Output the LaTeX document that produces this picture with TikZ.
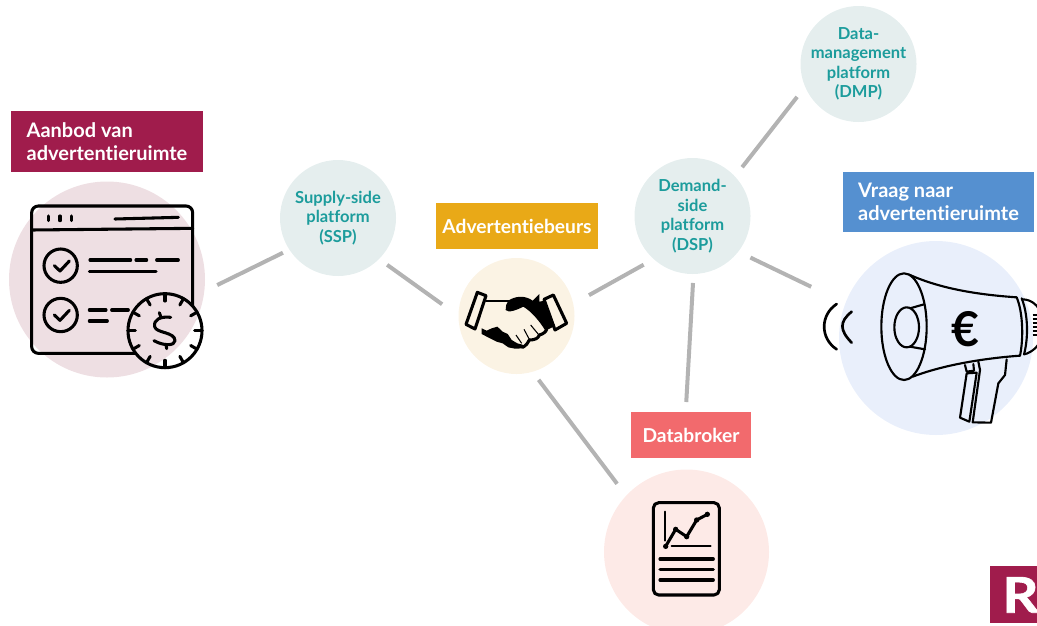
\documentclass[tikz,border=0pt]{standalone}
\usepackage{fontspec}
\setmainfont{Lato}[Ligatures={NoCommon,NoRare}]
\newfontfamily\logofont{Lato}[BoldFeatures={FakeStretch=1.15,FakeBold=1.2}]
\def\px{0.75pt}
\definecolor{wine}{HTML}{A01C4C}
\definecolor{skyb}{HTML}{5590D0}
\definecolor{amber}{HTML}{E9A917}
\definecolor{coral}{HTML}{F26A6D}
\definecolor{tealt}{HTML}{1C9C9C}
\definecolor{cpink}{HTML}{EEDFE3}
\definecolor{cmist}{HTML}{E5EEEE}
\definecolor{ccream}{HTML}{FBF3E4}
\definecolor{crose}{HTML}{FDEAE7}
\definecolor{cblue}{HTML}{E9EFFB}
\definecolor{connc}{HTML}{B3B3B3}
\tikzset{
  disc/.style={circle,inner sep=0pt,outer sep=0pt,minimum size=#1*\px},
  platform/.style={disc=116,fill=cmist,inner sep=-14pt,text=tealt,align=center,
    font=\fontsize{12.4}{14.6}\selectfont\bfseries},
  tag/.style={rectangle,inner sep=0pt,outer sep=0pt,text=white,align=left,
    font=\fontsize{14.4}{17.4}\selectfont\bfseries},
  tagwide/.style={tag,font=\fontsize{15}{17.4}\selectfont\bfseries},
  conn/.style={draw=connc,line width=3pt},
  ink/.style={draw=black,line width=2.3pt,line cap=round,line join=round},
  thinink/.style={draw=black,line width=1.6pt,line cap=round,line join=round},
}
\begin{document}
\begin{tikzpicture}[x=0.75pt,y=-0.75pt]
\useasboundingbox (0,0) rectangle (1037,625);
\clip (0,0) rectangle (1037,625);
% circles
\node[disc=196,fill=cpink] (aanbod) at (107,279.5) {};
\node[disc=194,fill=cblue] (vraag) at (936,338) {};
\node[disc=165,fill=crose] (data) at (686.5,552) {};
\node[disc=116,fill=ccream] (hand) at (516.5,316) {};
\node[platform] (ssp) at (338,218) {Supply-side\\platform\\(SSP)};
\node[platform] (dsp) at (692.5,216) {Demand-\\side\\platform\\(DSP)};
\node[platform] (dmp) at (858.5,64) {Data-\\management\\platform\\(DMP)};
% tags
\node[tagwide,fill=wine,minimum width=192*\px,minimum height=61*\px] (tagaanbod) at (107,141.5) {Aanbod van\\advertentieruimte};
\node[tagwide,fill=skyb,minimum width=191*\px,minimum height=60*\px] (tagvraag) at (938.5,202) {Vraag naar\\advertentieruimte};
\node[tag,fill=amber,minimum width=162*\px,minimum height=46*\px] (tagbeurs) at (517,226) {Advertentiebeurs};
\node[tag,fill=coral,minimum width=120*\px,minimum height=46*\px] (tagdata) at (691,435) {Databroker};
\node[rectangle,fill=wine,inner sep=0pt,minimum width=47.5*\px,minimum height=57.5*\px] (logo) at (1013.75,594.5) {};
\node[anchor=base west,inner sep=0pt,text=white,font=\fontsize{37}{37}\logofont\bfseries] (logor) at (1002,612.7) {R};
% connectors
\draw[conn,shorten <=14.4*\px,shorten >=7.2*\px] (aanbod.-7.6) -- (ssp.213.2);
\draw[conn,shorten <=10*\px,shorten >=20.2*\px] (ssp.-45.3) -- (hand.180);
\draw[conn,shorten <=18*\px,shorten >=11.5*\px] (hand.12.3) -- (dsp.228.6);
\draw[conn,shorten <=13.5*\px,shorten >=38*\px] (dsp.-38.6) -- (vraag.159.1);
\draw[conn,shorten <=9*\px,shorten >=10*\px] (dsp.-89) -- (tagdata.103.7);
\draw[conn,shorten <=11.7*\px,shorten >=13*\px] (dsp.43.3) -- (dmp.203);
\draw[conn,shorten <=10.1*\px,shorten >=15*\px] (hand.-74.6) -- (data.137.2);
% browser icon
\begin{scope}[shift={(0,100)},x=0.25pt,y=-0.25pt]
  \draw[ink,rounded corners=5pt] (95,318) rectangle (578,760);
  \draw[ink] (95,390) -- (578,385);
  \foreach \xx in {145,180,215} \draw[ink] (\xx,348) -- (\xx,362);
  \draw[ink] (345,357) -- (535,352);
  \draw[ink] (182,497) circle [radius=50];
  \draw[ink] (182,645) circle [radius=50];
  \draw[ink] (163,497) -- (180,513) -- (208,483);
  \draw[ink] (163,645) -- (180,661) -- (208,631);
  \draw[ink] (270,480) -- (392,480) (408,480) -- (440,480) (470,480) -- (535,480);
  \draw[ink] (268,515) -- (468,515);
  \draw[ink] (268,630) -- (318,630) (335,630) -- (385,630);
  \draw[ink] (268,663) -- (322,663);
  % clock
  \fill[white] (495,692) circle [radius=111];
  \begin{scope}
    \clip (495,692) circle [radius=111];
    \fill[cpink] (321,538) circle [radius=294];
  \end{scope}
  \draw[ink] (495,692) circle [radius=111];
  \foreach \aa in {0,30,...,330} \draw[ink] (495,692) ++(\aa:111) -- ++(\aa+180:22);
  \draw[ink] (512,652) .. controls (480,648) and (460,660) .. (464,680)
     .. controls (468,700) and (525,695) .. (525,722)
     .. controls (525,738) and (490,738) .. (462,722);
  \draw[ink] (478,638) -- (483,652) (498,733) -- (500,746);
\end{scope}
% megaphone
\begin{scope}[shift={(810,240)},x=0.25pt,y=-0.25pt]
  \draw[thinink] (282,260) ellipse [x radius=68,y radius=160];
  \draw[thinink] (290,262) ellipse [x radius=37,y radius=60];
  \draw[thinink] (300,205) -- (342,193) (300,320) -- (345,328);
  \draw[thinink] (298,104) .. controls (400,150) and (520,165) .. (620,172);
  \draw[thinink] (308,410) .. controls (400,375) and (520,355) .. (630,347);
  \draw[thinink] (620,172) .. controls (640,220) and (640,300) .. (630,347);
  \draw[thinink] (635,175) .. controls (655,225) and (655,295) .. (642,343);
  \draw[thinink] (640,178) .. controls (665,180) and (685,195) .. (695,225);
  \draw[thinink] (642,343) .. controls (665,338) and (685,320) .. (695,295);
  \foreach \yy in {225,237,...,295} \draw[draw=black,line width=1pt] (668,\yy) -- (695,\yy);
  \draw[thinink] (465,375) -- (470,395) -- (492,392) -- (490,372);
  \draw[thinink] (470,400) -- (450,533) -- (478,545) -- (500,398) -- cycle;
  \draw[thinink] (505,365) -- (510,390) -- (488,547) -- (543,548) -- (565,430) -- (585,405) -- (590,358);
  \draw[draw=black,line width=2pt,line cap=round] (80,192) .. controls (30,225) and (30,295) .. (80,328);
  \draw[draw=black,line width=2pt,line cap=round] (125,215) .. controls (88,245) and (88,270) .. (125,308);
  \node[inner sep=0pt,font=\fontsize{36}{36}\selectfont\bfseries] (euro) at (465,268) {€};
\end{scope}
% handshake
\begin{scope}[shift={(440,260)},x=0.25pt,y=-0.25pt]
  \draw[ink] (112,97) -- (138,107) -- (105,207) -- (78,193) -- cycle;
  \draw[ink] (312,118) -- (340,105) -- (380,190) -- (345,210) -- cycle;
  \draw[thinink] (138,122) -- (208,122);
  \fill[black] (205,122) .. controls (225,108) and (255,105) .. (278,122)
     -- (298,102) -- (298,125) -- (315,122) -- (345,198) -- (316,212)
     .. controls (300,185) and (275,155) .. (250,140)
     .. controls (230,150) and (205,160) .. (197,150)
     .. controls (195,140) and (200,130) .. (205,122) -- cycle;
  \fill[black] (125,205) -- (140,212) -- (155,205) -- (172,200)
     -- (188,215) -- (203,222) -- (215,240) -- (232,250) -- (248,254)
     -- (250,265) -- (225,266) -- (205,262) -- (188,250) -- (170,245)
     -- (150,235) -- (125,222) -- cycle;
  \draw[ink] (248,262) .. controls (258,256) and (264,250) .. (268,240);
  \draw[ink] (268,240) .. controls (285,240) and (295,235) .. (298,225);
  \draw[ink] (298,225) .. controls (310,222) and (318,215) .. (320,208);
  \draw[draw=black,line width=.8pt] (228,225) -- (245,250) (252,208) -- (268,238) (272,195) -- (296,224);
\end{scope}
% report
\begin{scope}[shift={(600,470)},x=0.25pt,y=-0.25pt]
  \draw[ink,rounded corners=4pt] (160,98) rectangle (358,375);
  \draw[thinink] (194,125) -- (194,212);
  \draw[thinink] (215,228) -- (332,228);
  \draw[ink] (197,229) -- (227,178) -- (260,200) -- (290,150) -- (322,133);
  \foreach \cx/\cy in {197/229,227/178,260/200,290/150,322/133} \fill (\cx,\cy) circle [radius=8];
  \foreach \yy in {267,298,330} \draw[ink] (180,\yy) -- (340,\yy);
\end{scope}
\end{tikzpicture}
\end{document}
